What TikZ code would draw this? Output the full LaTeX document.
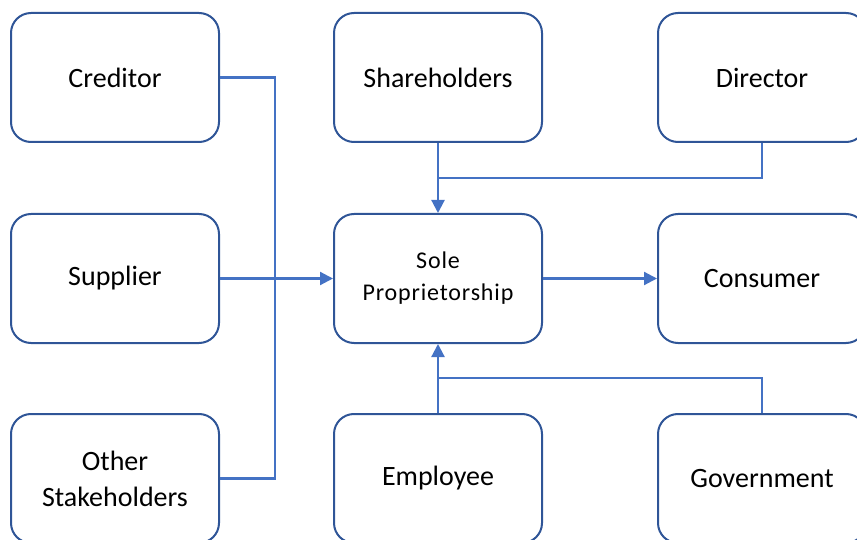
\documentclass[tikz,border=0pt]{standalone}
\usepackage{fontspec}
\setmainfont{Carlito}
\newfontfamily\solefont[LetterSpace=3.5]{Carlito}
\usetikzlibrary{arrows.meta}
\definecolor{boxc}{HTML}{2F5597}
\definecolor{linec}{HTML}{4472C4}
\begin{document}
\begin{tikzpicture}[x=1pt,y=-1pt,
  box/.style={draw=boxc,line width=2pt,rounded corners=20pt,minimum width=208pt,minimum height=129pt,inner sep=0pt,align=center,font=\fontsize{28}{36}\selectfont},
  conn/.style={draw=linec,line width=2.2pt},
  arr/.style={conn,-{Triangle[length=13pt,width=13pt]}}]
\useasboundingbox (0,0) rectangle (857,540);
\node[box] (cred) at (115,77.5) {Creditor};
\node[box] (share) at (438,77.5) {Shareholders};
\node[box] (dir) at (762,77.5) {Director};
\node[box] (sup) at (115,278.5) {Supplier};
\node[box,font=\solefont\fontsize{24}{32}\selectfont] (sole) at (438,278.5) {Sole\\Proprietorship};
\node[box] (cons) at (762,278.5) {Consumer};
\node[box] (oth) at (115,478.5) {Other\\Stakeholders};
\node[box] (emp) at (438,478.5) {Employee};
\node[box] (gov) at (762,478.5) {Government};
\coordinate (jx) at (275,0);
\draw[conn] (cred.east) -| (jx |- oth.east) -- (oth.east);
\draw[arr] (sup.east) -- (sole.west);
\draw[arr] (share.south) -- (sole.north);
\draw[conn] (dir.south) |- (438,178);
\draw[arr] (sole.east) -- (cons.west);
\draw[arr] (emp.north) -- (sole.south);
\draw[conn] (gov.north) |- (438,378);
\end{tikzpicture}
\end{document}
